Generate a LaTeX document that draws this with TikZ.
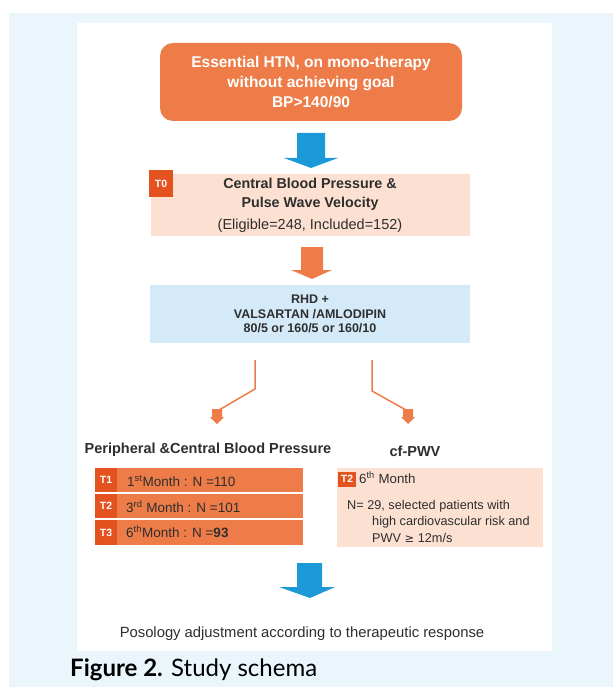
\documentclass[tikz,border=0pt]{standalone}
\usepackage{fontspec}
\setmainfont{Liberation Sans}
\newfontfamily\capfont{Lato}
\definecolor{bgblue}{HTML}{EAF6FC}
\definecolor{orng}{HTML}{EE7C48}
\definecolor{badgec}{HTML}{E4521F}
\definecolor{peach}{HTML}{FCE1D2}
\definecolor{lblue}{HTML}{D5EAF8}
\definecolor{arrblue}{HTML}{1C9AD8}
\definecolor{txt}{HTML}{2E2E2E}
\begin{document}
\begin{tikzpicture}[x=1pt,y=-1pt,
  box/.style={draw=none,inner sep=0pt,outer sep=0pt,align=center},
  badgebox/.style={fill=badgec,text=white,font=\bfseries\fontsize{10.5}{12}\selectfont,inner sep=0pt,outer sep=0pt},
  rowtext/.style={text=txt,font=\fontsize{13.5}{15}\selectfont,anchor=west,inner sep=0pt},
  rtext/.style={text=txt,font=\fontsize{12.7}{15}\selectfont,anchor=west,inner sep=0pt},
  branch/.style={draw=orng,line width=1.5pt}]
\useasboundingbox (0,0) rectangle (613,687);
\fill[white] (0,0) rectangle (613,687);
\fill[bgblue] (9,13) rectangle (613,687);
\fill[white] (77,23) rectangle (552,651);

% top box
\node[box,fill=orng,rounded corners=13pt,minimum width=302pt,minimum height=78pt,
  text=white,font=\bfseries\fontsize{15.5}{20}\selectfont] (top) at (311,82)
  {Essential HTN, on mono-therapy\\without achieving goal\\BP>140/90};

% blue arrow 1
\fill[arrblue] (297,133) -- (325,133) -- (325,158) -- (338,158) -- (311,168) -- (284,158) -- (297,158) -- cycle;

% T0 box
\node[box,fill=peach,minimum width=319pt,minimum height=62pt,text=txt] (t0) at (310.5,205) {};
\node[text=txt,font=\bfseries\fontsize{14.3}{16}\selectfont,inner sep=0pt] (t0a) at (310,183) {Central Blood Pressure \&};
\node[text=txt,font=\bfseries\fontsize{14.3}{16}\selectfont,inner sep=0pt] (t0b) at (310,204) {Pulse Wave Velocity};
\node[text=txt,font=\fontsize{14.5}{16}\selectfont,inner sep=0pt] (t0c) at (310,226) {(Eligible=248, Included=152)};
\node[badgebox,minimum width=24pt,minimum height=27pt] (b0) at (161,183.5) {T0};

% orange arrow 2
\fill[orng] (301,247) -- (323,247) -- (323,270) -- (332,270) -- (312,279) -- (291,270) -- (301,270) -- cycle;

% RHD box
\node[box,fill=lblue,minimum width=320pt,minimum height=58pt,text=txt,
  font=\bfseries\fontsize{12.5}{14.3}\selectfont] (rhd) at (310,314)
  {RHD +\\VALSARTAN /AMLODIPIN\\80/5 or 160/5 or 160/10};

% branch connectors
\coordinate (lk) at (255,389);
\coordinate (ld) at (219,410);
\coordinate (rk) at (372,391);
\coordinate (rd) at (406,410);
\draw[branch] (rhd.south -| lk) ++(0,17) -- (lk) -- (ld);
\draw[branch] (rhd.south -| rk) ++(0,17) -- (rk) -- (rd);
\fill[orng] (212,409) -- (222,409) -- (222,417) -- (224,417) -- (217,424) -- (210,417) -- (212,417) -- cycle;
\fill[orng] (403,409) -- (413,409) -- (413,417) -- (415,417) -- (408,424) -- (401,417) -- (403,417) -- cycle;

% headings
\node[text=txt,font=\bfseries\fontsize{14.5}{16}\selectfont,inner sep=0pt] (hl) at (208,450) {Peripheral \&Central Blood Pressure};
\node[text=txt,font=\bfseries\fontsize{14.5}{16}\selectfont,inner sep=0pt] (hr) at (415,451) {cf-PWV};

% left stack
\node[box,fill=orng,minimum width=208pt,minimum height=24pt] (r1) at (199,480) {};
\node[box,fill=orng,minimum width=208pt,minimum height=24pt] (r2) at (199,506) {};
\node[box,fill=orng,minimum width=208pt,minimum height=25pt] (r3) at (199,532.5) {};
\node[badgebox,minimum width=22pt,minimum height=24pt] (b1) at (106,480) {T1};
\node[badgebox,minimum width=22pt,minimum height=24pt] (b2) at (106,506) {T2};
\node[badgebox,minimum width=22pt,minimum height=25pt] (b3) at (106,532.5) {T3};
\node[rowtext] (x1) at (127,481) {1\textsuperscript{st}Month : N =110};
\node[rowtext] (x2) at (126,507) {3\textsuperscript{rd} Month : N =101};
\node[rowtext] (x3) at (126,532) {6\textsuperscript{th}Month : N =\textbf{93}};

% right box
\node[box,fill=peach,minimum width=206pt,minimum height=79pt] (rb) at (440,507.5) {};
\node[badgebox,minimum width=18pt,minimum height=15pt] (b4) at (347,479) {T2};
\node[rtext,font=\fontsize{13.3}{15}\selectfont] (y1) at (359,478) {6\textsuperscript{th} Month};
\node[rtext] (y2) at (347,506) {N= 29, selected patients with};
\node[rtext] (y3) at (372,522) {high cardiovascular risk and};
\node[rtext] (y4) at (372,538) {PWV {\fontspec{DejaVu Sans}\fontsize{11.5}{15}\selectfont ≥} 12m/s};

% blue arrow 3
\fill[arrblue] (297,563) -- (322,563) -- (322,587) -- (335,587) -- (310,598) -- (279,587) -- (297,587) -- cycle;

% bottom text
\node[text=txt,font=\fontsize{14.8}{16}\selectfont,inner sep=0pt] (post) at (302,634) {Posology adjustment according to therapeutic response};

% caption
\node[anchor=west,inner sep=0pt,text=black,font=\capfont\fontsize{24}{28}\selectfont] (cap) at (70,670) {\textbf{Figure 2.} Study schema};
\end{tikzpicture}
\end{document}
